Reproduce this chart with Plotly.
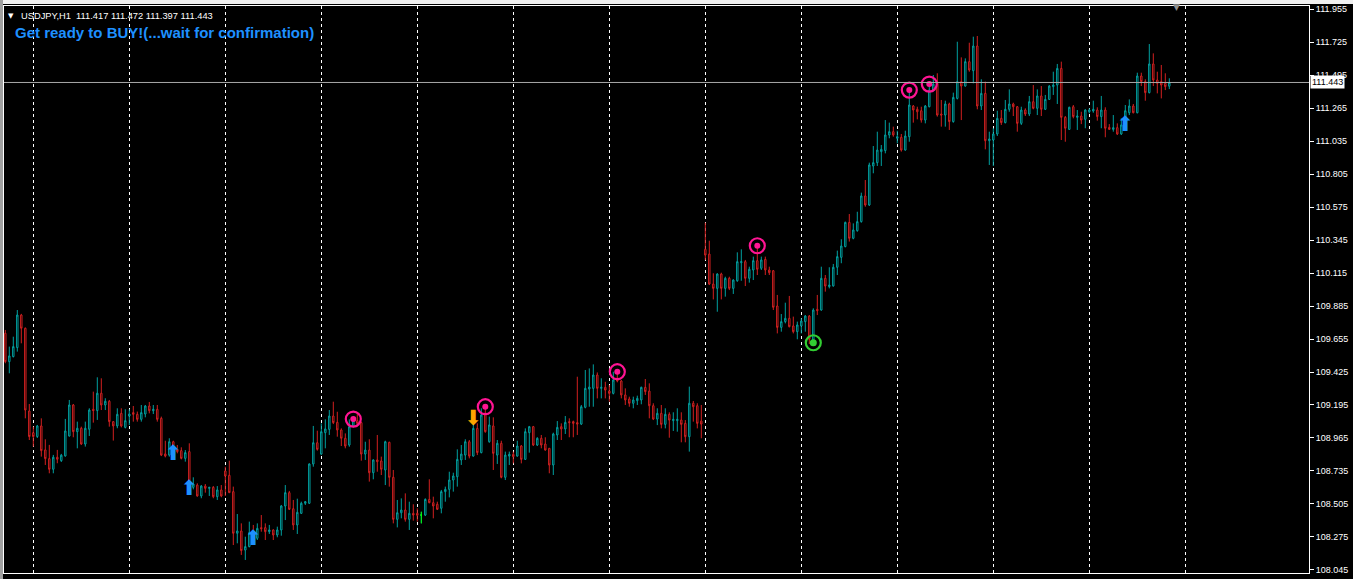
import plotly.graph_objects as go

# ---------------- data (USDJPY, H1) ----------------
open_ = [109.695,109.497,109.532,109.595,109.822,109.730,109.153,109.002,108.975,109.049,
108.882,108.821,108.747,108.831,108.807,108.840,108.979,109.195,109.009,109.033,
108.923,109.026,109.165,109.156,109.277,109.195,109.221,109.079,109.049,109.137,
109.039,109.118,109.142,109.130,109.095,109.132,109.188,109.155,109.165,109.102,
108.854,108.846,108.939,108.886,108.877,108.823,108.870,108.621,108.637,108.561,
108.630,108.614,108.621,108.556,108.603,108.735,108.705,108.591,108.301,108.317,
108.184,108.208,108.305,108.266,108.340,108.340,108.312,108.324,108.289,108.324,
108.491,108.584,108.472,108.359,108.440,108.510,108.510,108.784,108.932,108.853,
109.002,109.025,109.118,109.074,109.021,108.963,108.916,109.049,109.086,109.072,
108.853,108.881,108.723,108.812,108.805,108.742,108.935,108.691,108.398,108.444,
108.463,108.398,108.440,108.440,108.428,108.428,108.537,108.514,108.503,108.475,
108.591,108.607,108.672,108.695,108.812,108.846,108.939,108.839,109.032,108.863,
109.137,108.939,109.049,108.846,108.928,108.691,108.839,108.851,108.839,108.909,
108.816,109.002,109.044,108.916,108.963,108.923,108.893,108.777,108.986,109.044,
109.028,109.079,109.079,109.072,109.062,109.179,109.306,109.311,109.404,109.311,
109.318,109.292,109.276,109.376,109.362,109.265,109.237,109.207,109.225,109.230,
109.318,109.292,109.190,109.097,109.137,109.060,109.130,109.086,109.086,109.090,
109.067,108.974,109.207,109.190,109.083,110.280,110.247,110.038,110.008,110.108,
110.008,110.078,110.008,110.061,110.187,110.194,110.078,110.136,110.201,110.148,
110.210,110.136,110.131,109.885,109.736,109.776,109.799,109.746,109.706,109.746,
109.776,109.815,109.648,109.862,109.857,110.078,110.020,110.025,110.155,110.224,
110.299,110.468,110.357,110.410,110.473,110.652,110.589,110.861,110.884,110.961,
110.968,111.077,111.100,111.054,111.061,110.972,111.065,111.279,111.256,111.246,
111.181,111.274,111.386,111.437,111.223,111.216,111.293,111.170,111.332,111.449,
111.418,111.588,111.525,111.697,111.279,111.367,111.037,111.042,111.084,111.193,
111.163,111.256,111.293,111.274,111.158,111.251,111.223,111.309,111.263,111.349,
111.256,111.325,111.414,111.425,111.541,111.200,111.116,111.274,111.200,111.209,
111.186,111.239,111.244,111.251,111.205,111.251,111.130,111.116,111.128,111.084,
111.147,111.232,111.279,111.232,111.488,111.449,111.372,111.572,111.460,111.449,
111.437,111.417]
high = [109.718,109.602,109.671,109.857,109.830,109.735,109.202,109.044,109.056,109.102,
108.956,108.917,108.847,108.882,108.854,109.098,109.230,109.202,109.079,109.044,
109.079,109.172,109.288,109.388,109.381,109.242,109.230,109.079,109.172,109.172,
109.165,109.165,109.188,109.149,109.195,109.195,109.216,109.195,109.195,109.114,
108.946,108.963,108.946,108.916,108.900,108.881,108.928,108.691,108.649,108.637,
108.644,108.621,108.630,108.630,108.637,108.765,108.807,108.626,108.435,108.370,
108.277,108.382,108.359,108.370,108.428,108.370,108.359,108.328,108.347,108.498,
108.637,108.596,108.533,108.542,108.521,108.526,108.788,109.049,109.016,109.067,
109.095,109.160,109.218,109.148,109.032,108.997,109.095,109.114,109.141,109.079,
108.939,108.956,108.816,108.986,108.835,108.946,108.939,108.742,108.533,108.544,
108.579,108.521,108.503,108.475,108.451,108.544,108.677,108.556,108.521,108.603,
108.626,108.730,108.723,108.886,108.916,108.956,108.951,109.137,109.067,109.172,
109.183,109.114,109.109,108.951,108.946,108.870,108.870,108.870,108.946,108.916,
109.032,109.049,109.049,108.970,108.986,108.970,108.893,109.002,109.083,109.067,
109.118,109.102,109.086,109.392,109.195,109.439,109.450,109.478,109.422,109.381,
109.357,109.334,109.427,109.446,109.369,109.311,109.253,109.253,109.260,109.323,
109.376,109.346,109.207,109.172,109.195,109.172,109.144,109.144,109.172,109.144,
109.090,109.323,109.223,109.207,109.195,110.466,110.340,110.113,110.113,110.117,
110.089,110.089,110.071,110.259,110.280,110.206,110.159,110.229,110.303,110.229,
110.229,110.159,110.136,109.962,109.829,109.908,109.955,109.811,109.776,109.799,
109.822,109.822,109.869,109.962,110.159,110.101,110.155,110.178,110.271,110.350,
110.473,110.526,110.461,110.542,110.675,110.763,110.884,111.000,111.100,111.007,
111.181,111.163,111.135,111.107,111.084,111.107,111.390,111.286,111.274,111.274,
111.286,111.441,111.495,111.507,111.321,111.316,111.302,111.372,111.727,111.618,
111.611,111.720,111.762,111.767,111.465,111.449,111.100,111.124,111.246,111.251,
111.321,111.395,111.302,111.279,111.274,111.263,111.349,111.425,111.395,111.418,
111.356,111.425,111.518,111.572,111.588,111.209,111.274,111.286,111.251,111.239,
111.256,111.263,111.316,111.270,111.349,111.270,111.153,111.216,111.158,111.193,
111.286,111.325,111.293,111.511,111.511,111.465,111.711,111.646,111.518,111.565,
111.507,111.472]
low = [109.486,109.416,109.527,109.567,109.625,109.102,108.951,108.905,108.965,108.835,
108.777,108.719,108.719,108.789,108.798,108.835,108.975,108.970,108.893,108.917,
108.905,108.979,109.072,109.091,109.160,109.160,109.044,108.947,109.033,109.039,
109.032,109.056,109.079,109.079,109.079,109.109,109.137,109.132,109.079,108.839,
108.830,108.835,108.812,108.858,108.816,108.800,108.614,108.607,108.556,108.545,
108.584,108.561,108.545,108.533,108.552,108.561,108.584,108.219,108.231,108.150,
108.115,108.203,108.254,108.254,108.312,108.254,108.296,108.254,108.273,108.284,
108.393,108.463,108.324,108.296,108.435,108.498,108.505,108.765,108.877,108.846,
108.893,108.986,109.062,108.974,108.909,108.893,108.904,109.039,109.044,108.807,
108.812,108.661,108.677,108.730,108.707,108.637,108.626,108.370,108.342,108.405,
108.382,108.324,108.389,108.382,108.370,108.421,108.510,108.405,108.463,108.440,
108.521,108.551,108.591,108.626,108.777,108.812,108.823,108.835,108.846,108.858,
109.002,108.932,108.742,108.784,108.684,108.672,108.777,108.788,108.835,108.788,
108.812,108.863,108.909,108.909,108.893,108.877,108.719,108.707,108.951,108.951,
108.993,108.970,108.970,108.986,109.056,109.172,109.183,109.183,109.241,109.241,
109.241,109.218,109.269,109.353,109.241,109.195,109.183,109.172,109.195,109.200,
109.265,109.102,109.090,109.055,109.032,109.032,108.967,109.014,109.009,108.935,
108.935,108.870,109.079,109.032,108.963,110.206,110.031,109.931,109.845,109.931,
109.950,109.996,109.969,110.054,110.061,110.024,110.048,110.066,110.101,110.136,
110.101,110.101,109.857,109.694,109.706,109.764,109.736,109.694,109.653,109.694,
109.706,109.620,109.606,109.822,109.852,109.985,110.008,110.020,110.101,110.183,
110.294,110.334,110.350,110.403,110.466,110.577,110.582,110.810,110.861,110.861,
110.949,111.054,111.065,111.019,110.961,110.968,111.030,111.163,111.186,111.163,
111.158,111.270,111.380,111.205,111.135,111.135,111.112,111.163,111.325,111.181,
111.414,111.518,111.437,111.256,111.251,110.977,110.868,110.861,111.070,111.147,
111.158,111.239,111.209,111.100,111.147,111.209,111.209,111.256,111.216,111.209,
111.251,111.321,111.356,111.293,111.042,111.030,111.112,111.193,111.112,111.153,
111.124,111.228,111.232,111.177,111.124,111.061,111.112,111.100,111.077,111.077,
111.130,111.216,111.228,111.228,111.418,111.316,111.367,111.418,111.367,111.332,
111.390,111.397]
close = [109.497,109.537,109.602,109.822,109.730,109.160,108.975,108.975,109.049,108.877,
108.821,108.747,108.831,108.817,108.845,109.014,109.195,109.009,109.033,108.923,
109.033,109.160,109.156,109.277,109.195,109.221,109.079,109.049,109.130,109.049,
109.086,109.132,109.130,109.095,109.142,109.188,109.155,109.165,109.095,108.846,
108.839,108.939,108.870,108.870,108.823,108.863,108.626,108.644,108.561,108.630,
108.614,108.621,108.556,108.603,108.561,108.700,108.584,108.301,108.317,108.180,
108.208,108.305,108.266,108.335,108.333,108.312,108.324,108.289,108.324,108.491,
108.584,108.468,108.359,108.447,108.510,108.521,108.784,108.932,108.886,109.009,
109.028,109.118,109.072,109.021,108.963,108.909,109.044,109.086,109.067,108.853,
108.881,108.723,108.812,108.800,108.747,108.939,108.691,108.398,108.444,108.463,
108.398,108.440,108.428,108.426,108.428,108.537,108.514,108.491,108.468,108.591,
108.607,108.672,108.700,108.816,108.853,108.939,108.839,109.032,108.863,109.125,
109.009,109.056,108.858,108.928,108.691,108.846,108.851,108.835,108.909,108.816,
109.009,109.044,108.916,108.963,108.916,108.881,108.777,108.993,109.039,109.028,
109.074,109.072,109.067,109.062,109.183,109.311,109.320,109.404,109.311,109.318,
109.299,109.276,109.369,109.362,109.265,109.230,109.207,109.230,109.241,109.318,
109.288,109.190,109.097,109.137,109.060,109.130,109.090,109.095,109.095,109.060,
108.974,109.207,109.183,109.067,109.062,110.240,110.038,110.008,110.108,110.008,
110.078,110.008,110.066,110.194,110.194,110.078,110.141,110.201,110.141,110.206,
110.136,110.117,109.876,109.736,109.776,109.799,109.741,109.706,109.753,109.780,
109.815,109.653,109.857,109.852,110.078,110.024,110.031,110.155,110.229,110.303,
110.468,110.357,110.415,110.473,110.652,110.589,110.868,110.884,110.972,110.977,
111.077,111.100,111.077,111.065,110.972,111.070,111.286,111.251,111.239,111.181,
111.279,111.390,111.432,111.216,111.216,111.293,111.170,111.339,111.449,111.418,
111.588,111.530,111.697,111.279,111.367,111.037,111.049,111.084,111.193,111.163,
111.256,111.293,111.274,111.158,111.251,111.223,111.309,111.263,111.349,111.256,
111.325,111.418,111.425,111.541,111.200,111.124,111.270,111.205,111.209,111.181,
111.251,111.251,111.256,111.205,111.251,111.124,111.116,111.128,111.084,111.147,
111.246,111.279,111.232,111.488,111.449,111.372,111.572,111.460,111.437,111.425,
111.414,111.443]

# doji bar drawn in the "line" colour
doji_idx = [104]

# signal markers (bar index, price)
buy_arrow_idx = [42, 46, 62, 280]
buy_arrow_px = [108.846, 108.602, 108.254, 111.140]
sell_arrow_idx = [117]
sell_arrow_px = [109.090]
pink_circle_idx = [87, 120, 153, 188, 226, 231]
pink_circle_px = [109.097, 109.183, 109.427, 110.305, 111.390, 111.432]
green_circle_idx = [202]
green_circle_px = [109.629]

# day separators (bar index of each day start)
day_start_idx = [7, 31, 55, 79, 103, 127, 151, 175, 199, 223, 247, 271, 295]

y_tick_labels = ["108.045","108.275","108.505","108.735","108.965","109.195","109.425",
                 "109.655","109.885","110.115","110.345","110.575","110.805","111.035",
                 "111.265","111.495","111.725","111.955"]
last_price = 111.443
header = "USDJPY,H1\u00a0\u00a0111.417 111.472 111.397 111.443"
signal_text = "Get ready to BUY!(...wait for confirmation)"

# ---------------- styling ----------------
TEAL = "#00A0A0"
RED = "#D22020"
PINK = "#FF1493"
GREEN = "#32CD32"
W, H = 1353, 579
ML, MR, MT, MB = 4, 44, 6, 6

idx = list(range(len(close)))

fig = go.Figure()
fig.add_trace(go.Candlestick(
    x=idx, open=open_, high=high, low=low, close=close,
    increasing=dict(line=dict(color=TEAL, width=1), fillcolor="black"),
    decreasing=dict(line=dict(color=RED, width=1), fillcolor="black"),
    whiskerwidth=0, hoverinfo="skip", showlegend=False))
fig.add_trace(go.Candlestick(
    x=doji_idx, open=[open_[i] for i in doji_idx], high=[high[i] for i in doji_idx],
    low=[low[i] for i in doji_idx], close=[close[i] for i in doji_idx],
    increasing=dict(line=dict(color="#00FF00", width=1), fillcolor="#00FF00"),
    decreasing=dict(line=dict(color="#00FF00", width=1), fillcolor="#00FF00"),
    whiskerwidth=0, hoverinfo="skip", showlegend=False))

# circles
fig.add_trace(go.Scatter(x=pink_circle_idx, y=pink_circle_px, mode="markers",
    marker=dict(symbol="circle-open", size=15, color=PINK, line=dict(color=PINK, width=2.2)),
    hoverinfo="skip", showlegend=False))
fig.add_trace(go.Scatter(x=pink_circle_idx, y=pink_circle_px, mode="markers",
    marker=dict(symbol="circle", size=6, color=PINK, line=dict(width=0)),
    hoverinfo="skip", showlegend=False))
fig.add_trace(go.Scatter(x=green_circle_idx, y=green_circle_px, mode="markers",
    marker=dict(symbol="circle-open", size=15, color=GREEN, line=dict(color=GREEN, width=2.2)),
    hoverinfo="skip", showlegend=False))
fig.add_trace(go.Scatter(x=green_circle_idx, y=green_circle_px, mode="markers",
    marker=dict(symbol="circle", size=7, color=GREEN, line=dict(width=0)),
    hoverinfo="skip", showlegend=False))
# arrows
fig.add_trace(go.Scatter(x=buy_arrow_idx, y=buy_arrow_px, mode="text",
    text=["\u2B06"] * len(buy_arrow_idx), textposition="middle center",
    textfont=dict(family="DejaVu Sans", size=21, color="#1E90FF"),
    hoverinfo="skip", showlegend=False))
fig.add_trace(go.Scatter(x=sell_arrow_idx, y=sell_arrow_px, mode="text",
    text=["\u2B07"] * len(sell_arrow_idx), textposition="middle center",
    textfont=dict(family="DejaVu Sans", size=21, color="#FFA500"),
    hoverinfo="skip", showlegend=False))

y_tick_vals = [float(t) for t in y_tick_labels]

x0 = -(5.3 - ML) / 4.0
x1 = x0 + (W - ML - MR) / 4.0

def px_to_paper_x(px):
    return (px - ML) / (W - ML - MR)

def py_to_paper_y(py):
    return 1 - (py - MT) / (H - MT - MB)

fig.update_layout(
    width=W, height=H, autosize=False,
    margin=dict(l=ML, r=MR, t=MT, b=MB, pad=0),
    paper_bgcolor="black", plot_bgcolor="black",
    boxgap=0.5,
    showlegend=False,
    xaxis=dict(range=[x0, x1], showgrid=True, gridcolor="white", gridwidth=1,
               griddash="3px,3px", tickmode="array", tickvals=day_start_idx,
               showticklabels=False,
               ticks="", zeroline=False, showline=True, linecolor="white",
               linewidth=1, mirror=True, rangeslider=dict(visible=False),
               fixedrange=True),
    yaxis=dict(range=[108.024, 111.976], side="right", tickmode="array",
               tickvals=y_tick_vals, ticktext=y_tick_labels, showgrid=False,
               ticks="outside", ticklen=4, tickcolor="white", tickwidth=1,
               tickfont=dict(family="Liberation Sans", size=9, color="white"),
               showline=True, linecolor="white", linewidth=1, mirror=True,
               zeroline=False, fixedrange=True),
    shapes=[
        dict(type="line", xref="paper", yref="y", x0=0, x1=1, y0=last_price, y1=last_price,
             line=dict(color="#A8A8A8", width=1)),
        dict(type="rect", xref="paper", yref="paper", x0=px_to_paper_x(0), x1=px_to_paper_x(W),
             y0=py_to_paper_y(4), y1=py_to_paper_y(0), fillcolor="#F0F0F0", line=dict(width=0),
             layer="above"),
        dict(type="rect", xref="paper", yref="paper", x0=px_to_paper_x(0), x1=px_to_paper_x(3),
             y0=py_to_paper_y(H), y1=py_to_paper_y(0), fillcolor="#A0A0A0", line=dict(width=0),
             layer="above"),
    ],
    annotations=[
        dict(xref="paper", yref="paper", x=px_to_paper_x(7), y=py_to_paper_y(15.5),
             xanchor="left", yanchor="middle", showarrow=False, text="\u25BC",
             font=dict(family="DejaVu Sans", size=7, color="white"), borderpad=0),
        dict(xref="paper", yref="paper", x=px_to_paper_x(20), y=py_to_paper_y(15.5),
             xanchor="left", yanchor="middle", showarrow=False, text=header,
             font=dict(family="Liberation Sans", size=9.3, color="white"), borderpad=0),
        dict(xref="paper", yref="paper", x=px_to_paper_x(14), y=py_to_paper_y(32),
             xanchor="left", yanchor="middle", showarrow=False, text="<b>" + signal_text + "</b>",
             font=dict(family="Liberation Sans", size=15, color="#1E90FF"), borderpad=0),
        dict(xref="paper", yref="y", x=px_to_paper_x(1310), y=last_price,
             xanchor="left", yanchor="middle", showarrow=False, text=f"{last_price:.3f}",
             font=dict(family="Liberation Sans", size=9, color="black"),
             bgcolor="white", borderpad=1),
        dict(xref="paper", yref="paper", x=px_to_paper_x(1176), y=py_to_paper_y(7),
             xanchor="center", yanchor="middle", showarrow=False, text="\u25BC",
             font=dict(family="DejaVu Sans", size=9, color="#909090"), borderpad=0),
    ],
)

fig.write_html("out.html", config={"displayModeBar": False},
               post_script="document.body.style.margin='0';document.body.style.background='black';")
